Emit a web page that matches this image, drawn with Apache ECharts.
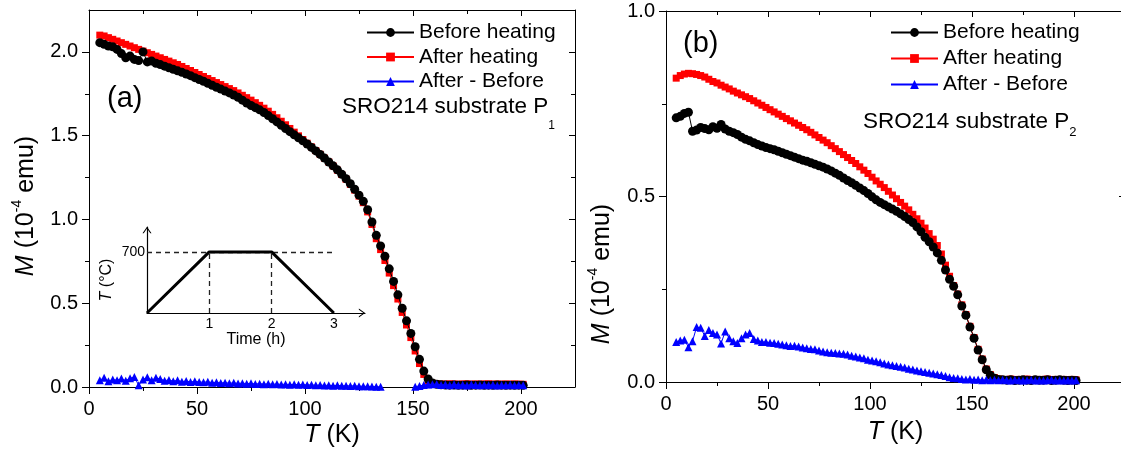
<!DOCTYPE html>
<html><head><meta charset="utf-8">
<script src="https://cdn.jsdelivr.net/npm/echarts@6/dist/echarts.min.js"></script>
<style>html,body{margin:0;padding:0;background:#fff}#c{width:1121px;height:459px}</style>
</head><body><div id="c"></div>
<script>
// ---------------- data ----------------
const temps = [
  5,7,9,11,13,15,17,19,21,23,
  25,27,29,31,33,35,37,39,41,43,
  45,47,49,51,53,55,57,59,61,63,
  65,67,69,71,73,75,77,79,81,83,
  85,87,89,91,93,95,97,99,101,103,
  105,107,109,111,113,115,117,119,121,123,
  125,127,129,131,133,135,137,139,141,143,
  145,147,149,151,153,155,157,159,161,163,
  165,167,169,171,173,175,177,179,181,183,
  185,187,189,191,193,195,197,199,201
];
// Panel (a): SRO214 substrate P1
const beforeA = [
  2.055,2.045,2.035,2.030,2.015,1.990,1.965,1.975,1.955,1.948,
  2.000,1.940,1.945,1.932,1.924,1.915,1.905,1.896,1.887,1.878,
  1.868,1.858,1.846,1.835,1.825,1.813,1.801,1.789,1.778,1.766,
  1.755,1.743,1.729,1.712,1.695,1.680,1.667,1.654,1.638,1.620,
  1.601,1.582,1.562,1.543,1.524,1.505,1.487,1.469,1.450,1.430,
  1.409,1.388,1.366,1.343,1.320,1.296,1.270,1.243,1.213,1.180,
  1.145,1.108,1.058,0.985,0.905,0.842,0.780,0.705,0.630,0.550,
  0.470,0.395,0.320,0.240,0.165,0.095,0.048,0.024,0.016,0.013,
  0.012,0.011,0.012,0.010,0.011,0.012,0.010,0.011,0.012,0.010,
  0.011,0.010,0.012,0.011,0.010,0.011,0.010,0.011,0.010
];
const afterA = [
  2.100,2.095,2.085,2.075,2.065,2.055,2.045,2.035,2.025,2.015,
  2.005,1.995,1.985,1.975,1.965,1.955,1.945,1.935,1.925,1.913,
  1.901,1.889,1.877,1.865,1.853,1.841,1.829,1.817,1.805,1.793,
  1.781,1.769,1.755,1.741,1.727,1.712,1.697,1.681,1.664,1.646,
  1.627,1.607,1.586,1.565,1.543,1.521,1.499,1.477,1.455,1.433,
  1.411,1.389,1.366,1.343,1.319,1.294,1.268,1.240,1.209,1.175,
  1.139,1.100,1.045,0.970,0.885,0.820,0.755,0.680,0.605,0.525,
  0.445,0.370,0.295,0.215,0.140,0.075,0.035,0.022,0.020,0.018,
  0.017,0.019,0.018,0.017,0.018,0.019,0.017,0.018,0.017,0.018,
  0.019,0.017,0.018,0.017,0.018,0.017,0.018,0.017,0.016
];
const diffA = [
  0.040,0.055,0.035,0.045,0.040,0.050,0.038,0.052,0.060,0.010,
  0.045,0.058,0.040,0.055,0.048,0.038,0.042,0.035,0.040,0.032,
  0.036,0.030,0.034,0.030,0.028,0.031,0.026,0.028,0.024,0.026,
  0.022,0.025,0.021,0.023,0.020,0.022,0.018,0.020,0.017,0.019,
  0.016,0.018,0.015,0.017,0.014,0.016,0.013,0.015,0.012,0.013,
  0.010,0.012,0.009,0.011,0.008,0.010,0.007,0.008,0.006,0.007,
  0.005,0.004,0.004,0.003,0.002,0.001,-0.025,-0.025,-0.025,-0.025,
  -0.025,-0.025,-0.020,0.002,0.006,0.012,0.015,0.016,0.018,0.012,
  0.015,0.010,0.016,0.011,0.014,0.009,0.015,0.012,0.010,0.014,
  0.011,0.013,0.009,0.012,0.010,0.013,0.011,0.012,0.010
];
// Panel (b): SRO214 substrate P2
const beforeB = [
  0.712,0.716,0.724,0.727,0.676,0.679,0.686,0.683,0.680,0.688,
  0.684,0.694,0.682,0.676,0.672,0.667,0.660,0.654,0.650,0.645,
  0.640,0.636,0.632,0.629,0.626,0.622,0.618,0.614,0.610,0.606,
  0.602,0.598,0.595,0.591,0.587,0.583,0.579,0.574,0.569,0.563,
  0.557,0.550,0.543,0.537,0.530,0.523,0.516,0.508,0.499,0.491,
  0.484,0.478,0.472,0.466,0.460,0.453,0.446,0.438,0.430,0.418,
  0.405,0.390,0.378,0.364,0.348,0.328,0.302,0.277,0.258,0.235,
  0.205,0.180,0.148,0.118,0.086,0.060,0.033,0.018,0.010,0.007,
  0.006,0.005,0.006,0.004,0.005,0.006,0.005,0.004,0.006,0.005,
  0.005,0.006,0.004,0.005,0.006,0.005,0.004,0.005,0.004
];
const afterB = [
  0.819,0.826,0.830,0.832,0.831,0.829,0.826,0.822,0.816,0.810,
  0.806,0.800,0.795,0.790,0.784,0.779,0.774,0.769,0.764,0.758,
  0.752,0.746,0.740,0.734,0.728,0.722,0.716,0.710,0.704,0.698,
  0.692,0.686,0.680,0.673,0.666,0.659,0.652,0.645,0.637,0.629,
  0.621,0.613,0.605,0.597,0.589,0.580,0.571,0.562,0.552,0.542,
  0.533,0.524,0.514,0.504,0.494,0.484,0.474,0.464,0.452,0.440,
  0.428,0.415,0.400,0.385,0.368,0.345,0.315,0.285,0.260,0.237,
  0.208,0.182,0.150,0.120,0.088,0.062,0.035,0.020,0.012,0.008,
  0.007,0.006,0.008,0.006,0.007,0.006,0.008,0.006,0.007,0.006,
  0.007,0.008,0.006,0.007,0.006,0.007,0.006,0.007,0.006
];
const diffB = [
  0.108,0.112,0.114,0.094,0.110,0.148,0.146,0.124,0.140,0.132,
  0.128,0.104,0.136,0.118,0.110,0.105,0.118,0.128,0.132,0.116,
  0.112,0.108,0.108,0.106,0.105,0.103,0.101,0.099,0.097,0.098,
  0.096,0.093,0.091,0.089,0.088,0.085,0.082,0.080,0.079,0.078,
  0.077,0.076,0.074,0.071,0.069,0.066,0.064,0.060,0.058,0.056,
  0.053,0.050,0.047,0.045,0.043,0.041,0.039,0.036,0.034,0.031,
  0.029,0.027,0.025,0.023,0.021,0.019,0.016,0.013,0.011,0.010,
  0.008,0.007,0.008,0.006,0.007,0.005,0.006,0.005,0.006,0.005,
  0.006,0.005,0.004,0.006,0.005,0.004,0.005,0.006,0.004,0.005,
  0.004,0.005,0.006,0.004,0.005,0.004,0.005,0.004,0.005
];
// Inset: heating profile
const heatTime = [0, 1, 2, 3];
const heatTemp = [0, 700, 700, 0];
const guideLevel = 700;
const guideTimes = [1, 2];
const guideEnd = 2.97;

// tick values
const xMajor = [0, 50, 100, 150, 200];
const xMinor = [25, 75, 125, 175];
const yMajorA = [0, 0.5, 1.0, 1.5, 2.0];
const yMinorA = [0.25, 0.75, 1.25, 1.75];
const yMajorB = [0, 0.5, 1.0];
const yMinorB = [0.25, 0.75];
const insetXLabels = [1, 2, 3];
const insetYLabels = [700];

const seriesNames = ['Before heating', 'After heating', 'After - Before'];

// ---------------- chart ----------------
const FONT = "'Liberation Sans', Arial, Helvetica, sans-serif";
const chevron = 'path://M5,0L10,7L8.6,7L5,1.9L1.4,7L0,7Z';

function pts(xs, ys) { return xs.map((x, i) => [x, ys[i]]); }

function ax(o) {
  return {
    type: 'value', gridIndex: o.grid, position: o.pos, min: o.min, max: o.max,
    axisLine: {
      show: !!o.line, onZero: false,
      lineStyle: { color: '#000', width: o.lw || 1 },
      symbol: o.symbol || 'none', symbolSize: [9, 7], symbolOffset: [0, -3]
    },
    axisTick: o.ticks ? {
      show: true, inside: !!o.inside, length: o.len, customValues: o.ticks,
      lineStyle: { color: '#000', width: 1 }
    } : { show: false },
    axisLabel: o.labels ? {
      show: true, customValues: o.labels, formatter: o.fmt, margin: o.margin,
      color: '#000', fontSize: o.fs || 20, fontFamily: FONT
    } : { show: false },
    splitLine: { show: false },
    minorTick: { show: false },
    name: o.name || '', nameLocation: 'middle', nameGap: o.nameGap || 0,
    nameMoveOverlap: false,
    nameTextStyle: o.nameStyle || {},
    silent: true
  };
}

const xTitleStyle = {
  fontSize: 25, fontFamily: FONT, color: '#000',
  rich: {
    i: { fontSize: 25, fontFamily: FONT, color: '#000', fontStyle: 'italic' },
    n: { fontSize: 25, fontFamily: FONT, color: '#000' }
  }
};
const fmt1 = v => v.toFixed(1);
const fmt0 = v => String(v);

function panelAxes(g, ymax, yMaj, yMin, nameGap) {
  return {
    x: [
      ax({ grid: g, pos: 'bottom', min: 0, max: 225, line: true, ticks: xMajor, len: 7, labels: xMajor, fmt: fmt0, margin: 12,
           name: '{i|T}{n| (K)}', nameGap: nameGap, nameStyle: xTitleStyle }),
      ax({ grid: g, pos: 'bottom', min: 0, max: 225, ticks: xMinor, len: 4 }),
      ax({ grid: g, pos: 'top', min: 0, max: 225, line: true, ticks: xMajor, len: 6, inside: true }),
      ax({ grid: g, pos: 'top', min: 0, max: 225, ticks: xMinor, len: 4, inside: true })
    ],
    y: [
      ax({ grid: g, pos: 'left', min: 0, max: ymax, line: true, ticks: yMaj, len: 7, labels: yMaj, fmt: fmt1, margin: 11 }),
      ax({ grid: g, pos: 'left', min: 0, max: ymax, ticks: yMin, len: 4 }),
      ax({ grid: g, pos: 'right', min: 0, max: ymax, line: true, ticks: yMaj, len: 6, inside: true }),
      ax({ grid: g, pos: 'right', min: 0, max: ymax, ticks: yMin, len: 4, inside: true })
    ]
  };
}
const pa = panelAxes(0, 2.25, yMajorA, yMinorA, 36);
const pb = panelAxes(1, 1.0, yMajorB, yMinorB, 38);

const insetX = ax({ grid: 2, pos: 'bottom', min: 0, max: 3.5, line: true, lw: 1.2, symbol: ['none', chevron],
  labels: insetXLabels, fmt: fmt0, margin: 4, fs: 14,
  name: 'Time (h)', nameGap: 19, nameStyle: { fontSize: 16, fontFamily: FONT, color: '#000' } });
const insetY = ax({ grid: 2, pos: 'left', min: 0, max: 985, line: true, lw: 1.2, symbol: ['none', chevron],
  labels: insetYLabels, fmt: fmt0, margin: 2, fs: 14 });

function mSeries(name, xi, yi, ys, sym, size, color, z) {
  return {
    name: name, type: 'line', xAxisIndex: xi, yAxisIndex: yi,
    data: pts(temps, ys), symbol: sym, symbolSize: size, showSymbol: true,
    itemStyle: { color: color }, lineStyle: { color: color, width: 1 },
    emphasis: { disabled: true }, clip: true, z: z, animation: false
  };
}

const legendBase = {
  orient: 'vertical', itemWidth: 47, itemHeight: 11, padding: 0,
  selectedMode: false, data: seriesNames,
  textStyle: { fontSize: 21, fontFamily: FONT, color: '#000', lineHeight: 21 }
};

function yTitle(x, y) {
  return { type: 'text', x: x, y: y, rotation: Math.PI / 2, silent: true,
    style: { text: '{i|M}{n| (10}{s|-4}{n| emu)}', align: 'center', verticalAlign: 'middle',
      rich: { i: { fontSize: 25, fontFamily: FONT, fill: '#000', fontStyle: 'italic' },
              n: { fontSize: 25, fontFamily: FONT, fill: '#000' },
              s: { fontSize: 14, fontFamily: FONT, fill: '#000', padding: [0, 0, 18, 0] } } } };
}
function sampleLabel(x, y, sub, subSize, subPad) {
  return { type: 'text', x: x, y: y, silent: true,
    style: { text: '{m|SRO214 substrate P}{s|' + sub + '}', align: 'left', verticalAlign: 'middle',
      rich: { m: { fontSize: 22.5, fontFamily: FONT, fill: '#000' },
              s: { fontSize: subSize, fontFamily: FONT, fill: '#000', padding: [subPad, 0, 0, 0] } } } };
}

const option = {
  animation: false,
  backgroundColor: '#fff',
  grid: [
    { left: 89, top: 10, width: 486, height: 377, containLabel: false, outerBoundsMode: 'none' },
    { left: 666, top: 11, width: 459, height: 371, containLabel: false, outerBoundsMode: 'none' },
    { left: 147, top: 227, width: 218, height: 86, containLabel: false, outerBoundsMode: 'none' }
  ],
  xAxis: [...pa.x, ...pb.x, insetX],
  yAxis: [...pa.y, ...pb.y, insetY],
  legend: [
    Object.assign({}, legendBase, { left: 366, top: 22, itemGap: 3.5 }),
    Object.assign({}, legendBase, { left: 890, top: 22, itemGap: 5 })
  ],
  series: [
    mSeries(seriesNames[1], 0, 0, afterA, 'rect', 7, '#ff0000', 2),
    mSeries(seriesNames[0], 0, 0, beforeA, 'circle', 9, '#000000', 3),
    mSeries(seriesNames[2], 0, 0, diffA, 'triangle', 8, '#0000ff', 4),
    mSeries(seriesNames[1], 4, 4, afterB, 'rect', 7, '#ff0000', 2),
    mSeries(seriesNames[0], 4, 4, beforeB, 'circle', 9, '#000000', 3),
    mSeries(seriesNames[2], 4, 4, diffB, 'triangle', 8, '#0000ff', 4),
    {
      name: 'profile', type: 'line', xAxisIndex: 8, yAxisIndex: 8,
      data: pts(heatTime, heatTemp), symbol: 'none',
      lineStyle: { color: '#000', width: 3 }, z: 5, emphasis: { disabled: true },
      markLine: {
        silent: true, symbol: 'none', label: { show: false }, animation: false,
        lineStyle: { color: '#222', width: 1.3, type: [5, 4] },
        data: [
          [{ coord: [0, guideLevel] }, { coord: [guideEnd, guideLevel] }],
          [{ coord: [guideTimes[0], 0] }, { coord: [guideTimes[0], guideLevel] }],
          [{ coord: [guideTimes[1], 0] }, { coord: [guideTimes[1], guideLevel] }]
        ]
      }
    }
  ],
  graphic: [
    { type: 'text', x: 107, y: 99, silent: true,
      style: { text: '(a)', fontSize: 29, fontFamily: FONT, fill: '#000', align: 'left', verticalAlign: 'middle' } },
    { type: 'text', x: 683, y: 44, silent: true,
      style: { text: '(b)', fontSize: 29, fontFamily: FONT, fill: '#000', align: 'left', verticalAlign: 'middle' } },
    sampleLabel(342, 107, '1', 12, 37),
    sampleLabel(863, 122, '2', 13, 20),
    yTitle(26, 206),
    yTitle(602, 274),
    { type: 'text', x: 107, y: 280, rotation: Math.PI / 2, silent: true,
      style: { text: '{i|T}{n| (°C)}', align: 'center', verticalAlign: 'middle',
        rich: { i: { fontSize: 16, fontFamily: FONT, fill: '#000', fontStyle: 'italic' },
                n: { fontSize: 16, fontFamily: FONT, fill: '#000' } } } }
  ]
};

const chart = echarts.init(document.getElementById('c'), null, { renderer: 'canvas' });
chart.setOption(option);
</script>
</body></html>
